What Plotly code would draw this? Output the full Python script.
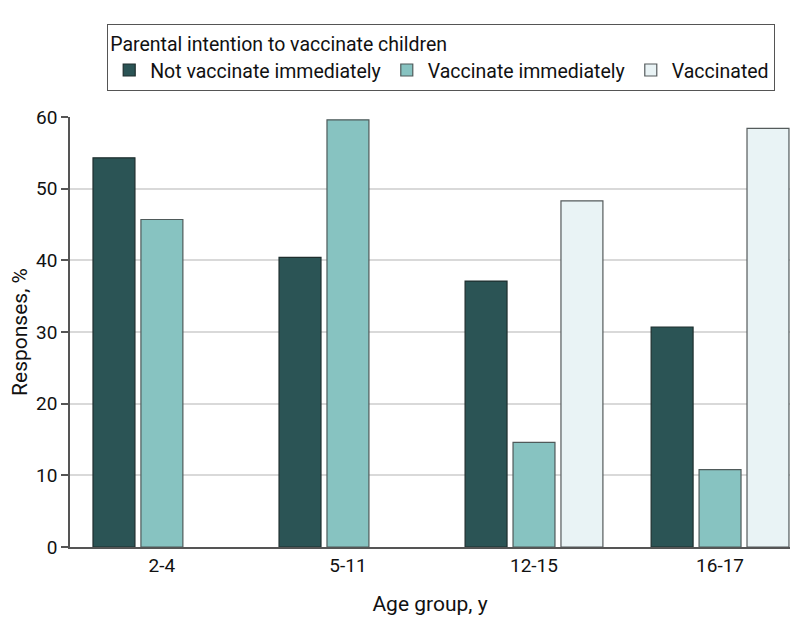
import plotly.graph_objects as go

categories = ["2-4", "5-11", "12-15", "16-17"]
not_vaccinate_immediately = [54.3, 40.4, 37.1, 30.7]
vaccinate_immediately = [45.7, 59.6, 14.6, 10.8]
vaccinated = [None, None, 48.3, 58.4]
y_ticks = [0, 10, 20, 30, 40, 50, 60]

FONT = "Roboto"

fig = go.Figure()
series = [
    ("Not vaccinate immediately", not_vaccinate_immediately, "#2B5455", "#1E2E2E"),
    ("Vaccinate immediately", vaccinate_immediately, "#87C3C1", "#4F5A5A"),
    ("Vaccinated", vaccinated, "#E9F3F5", "#555B5C"),
]
for name, vals, color, lc in series:
    fig.add_trace(go.Bar(
        name=name, x=categories, y=vals,
        marker=dict(color=color, line=dict(color=lc, width=1.2)),
    ))

fig.update_layout(
    width=798, height=633,
    margin=dict(l=62, r=16, t=108.7, b=94.3, autoexpand=False),
    paper_bgcolor="white", plot_bgcolor="white",
    barmode="group", bargap=0.227, bargroupgap=0.125,
    font=dict(family=FONT, size=19, color="#111"),
    showlegend=True,
    legend=dict(
        orientation="h",
        x=0.0514, xanchor="left", y=1.2156, yanchor="top",
        bordercolor="#555", borderwidth=1.2,
        itemwidth=32,
        title=dict(text="Parental intention to vaccinate children", side="top",
                   font=dict(family=FONT, size=19.5, color="#111")),
        font=dict(family=FONT, size=19.5, color="#111"),
        traceorder="normal",
    ),
    xaxis=dict(
        type="category", range=[-0.494, 3.376],
        showline=True, linecolor="#555", linewidth=1.5,
        ticks="", showgrid=False, automargin=False,
        title=dict(text="Age group, y", font=dict(family=FONT, size=21), standoff=21),
        tickfont=dict(family=FONT, size=19),
    ),
    yaxis=dict(
        range=[0, 60], tickvals=y_ticks,
        showline=True, linecolor="#555", linewidth=1.5,
        ticks="outside", ticklen=7, tickcolor="#555", tickwidth=1.5,
        showgrid=True, gridcolor="#d9d9d9", gridwidth=1.5,
        zeroline=False, automargin=False,
        title=dict(text="Responses, %", font=dict(family=FONT, size=21), standoff=12),
        tickfont=dict(family=FONT, size=19),
    ),
)

fig.write_html("out.html")
